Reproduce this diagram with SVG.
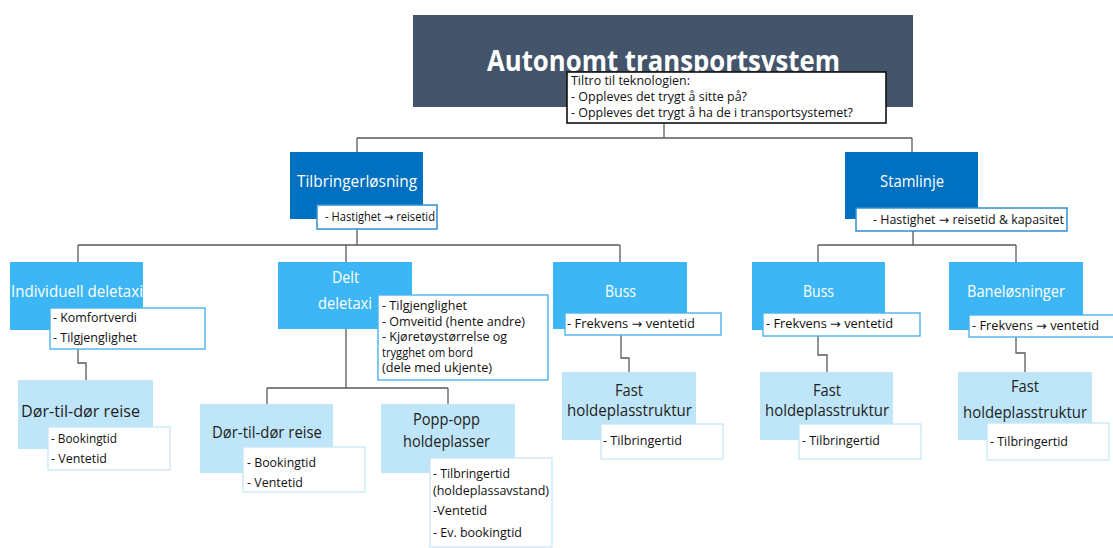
<svg xmlns="http://www.w3.org/2000/svg" width="1113" height="548" viewBox="0 0 1113 548">
<style>
.conn{stroke:#5a5a5a;stroke-width:1.3;fill:none}
.tb{fill:#44546a}
.l1{fill:#0070c0}
.l2{fill:#3db6f5}
.l3{fill:#bfe5f8}
.co0{fill:#fff;stroke:#111;stroke-width:1.6}
.co1{fill:#fff;stroke:#2f8fd2;stroke-width:1.5}
.co2{fill:#fff;stroke:#4ab3ec;stroke-width:1.4}
.co3{fill:#fff;stroke:#c6e6f8;stroke-width:1.3}
text{font-family:"Open Sans","Noto Sans","DejaVu Sans",sans-serif}
.tt{fill:#fff;font-size:29px;font-weight:bold}
.tw{fill:#fff;font-size:17px}
.td{fill:#1e1e1e;font-size:17px}
.tf{fill:#1e1e1e;font-size:16px}
.tc{fill:#111;font-size:12.5px}
</style>
<rect width="1113" height="548" fill="#fff"/>
<g id="connectors">
<path class="conn" d="M664 123V138M357 138H912M357 138V152M912 138V152"/>
<path class="conn" d="M357 229V245M78 245H620M78 245V262M346 245V262M620 245V262"/>
<path class="conn" d="M913 231V245M818 245H1016M818 245V262M1016 245V262"/>
<path class="conn" d="M78 349V363H86V380"/>
<path class="conn" d="M346 329V388M267 388H448M267 388V404M448 388V404"/>
<path class="conn" d="M621 335V358H629V372"/>
<path class="conn" d="M818 336V355H827V372"/>
<path class="conn" d="M1016 337V353H1025V372"/>
</g>
<g id="node-title">
<rect class="tb" x="413" y="15" width="500" height="92"/>
<text class="tt" x="487" y="71" textLength="353" lengthAdjust="spacingAndGlyphs">Autonomt transportsystem</text>
<rect class="co0" x="567" y="72" width="319" height="51"/>
<text class="tc" x="571" y="85" textLength="119" lengthAdjust="spacingAndGlyphs">Tiltro til teknologien:</text>
<text class="tc" x="571" y="101" textLength="176" lengthAdjust="spacingAndGlyphs">- Oppleves det trygt å sitte på?</text>
<text class="tc" x="571" y="117" textLength="282" lengthAdjust="spacingAndGlyphs">- Oppleves det trygt å ha de i transportsystemet?</text>
</g>
<g id="node-tilbringer">
<rect class="l1" x="290" y="152" width="133" height="67"/>
<text class="tw" x="297" y="187" textLength="120" lengthAdjust="spacingAndGlyphs">Tilbringerløsning</text>
<rect class="co1" x="317" y="205" width="120" height="24"/>
<text class="tc" x="325" y="221" textLength="110" lengthAdjust="spacingAndGlyphs">- Hastighet → reisetid</text>
</g>
<g id="node-stamlinje">
<rect class="l1" x="845" y="152" width="133" height="67"/>
<text class="tw" x="880" y="187" textLength="64" lengthAdjust="spacingAndGlyphs">Stamlinje</text>
<rect class="co1" x="856" y="208" width="211" height="23"/>
<text class="tc" x="873" y="224" textLength="191" lengthAdjust="spacingAndGlyphs">- Hastighet → reisetid &amp; kapasitet</text>
</g>
<g id="node-individuell">
<rect class="l2" x="10" y="262" width="133" height="68"/>
<text class="tw" x="11" y="297" textLength="132" lengthAdjust="spacingAndGlyphs">Individuell deletaxi</text>
<rect class="co2" x="50" y="308" width="155" height="41"/>
<text class="tc" x="53" y="322" textLength="84" lengthAdjust="spacingAndGlyphs">- Komfortverdi</text>
<text class="tc" x="53" y="342" textLength="84" lengthAdjust="spacingAndGlyphs">- Tilgjenglighet</text>
</g>
<g id="node-delt">
<rect class="l2" x="278" y="262" width="134" height="67"/>
<text class="tw" x="332" y="283" textLength="27" lengthAdjust="spacingAndGlyphs">Delt</text>
<text class="tw" x="318" y="309" textLength="54" lengthAdjust="spacingAndGlyphs">deletaxi</text>
<rect class="co2" x="378" y="295" width="170" height="85"/>
<text class="tc" x="382" y="310" textLength="85" lengthAdjust="spacingAndGlyphs">- Tilgjenglighet</text>
<text class="tc" x="382" y="326" textLength="143" lengthAdjust="spacingAndGlyphs">- Omveitid (hente andre)</text>
<text class="tc" x="382" y="341" textLength="125" lengthAdjust="spacingAndGlyphs">- Kjøretøystørrelse og</text>
<text class="tc" x="382" y="357" textLength="91" lengthAdjust="spacingAndGlyphs">trygghet om bord</text>
<text class="tc" x="382" y="372" textLength="110" lengthAdjust="spacingAndGlyphs">(dele med ukjente)</text>
</g>
<g id="node-buss-1">
<rect class="l2" x="553" y="262" width="134" height="67"/>
<text class="tw" x="605" y="297" textLength="31" lengthAdjust="spacingAndGlyphs">Buss</text>
<rect class="co2" x="565" y="313" width="156" height="22"/>
<text class="tc" x="567" y="328" textLength="128" lengthAdjust="spacingAndGlyphs">- Frekvens → ventetid</text>
</g>
<g id="node-buss-2">
<rect class="l2" x="752" y="262" width="133" height="68"/>
<text class="tw" x="803" y="297" textLength="31" lengthAdjust="spacingAndGlyphs">Buss</text>
<rect class="co2" x="763" y="313" width="157" height="23"/>
<text class="tc" x="766" y="328" textLength="127" lengthAdjust="spacingAndGlyphs">- Frekvens → ventetid</text>
</g>
<g id="node-bane">
<rect class="l2" x="949" y="262" width="134" height="68"/>
<text class="tw" x="967" y="297" textLength="98" lengthAdjust="spacingAndGlyphs">Baneløsninger</text>
<rect class="co2" x="969" y="315" width="150" height="22"/>
<text class="tc" x="972" y="330" textLength="127" lengthAdjust="spacingAndGlyphs">- Frekvens → ventetid</text>
</g>
<g id="node-dor-1">
<rect class="l3" x="18" y="380" width="135" height="69"/>
<text class="td" x="21" y="417" textLength="119" lengthAdjust="spacingAndGlyphs">Dør-til-dør reise</text>
<rect class="co3" x="48" y="427" width="122" height="43"/>
<text class="tc" x="51" y="443" textLength="66" lengthAdjust="spacingAndGlyphs">- Bookingtid</text>
<text class="tc" x="51" y="463" textLength="56" lengthAdjust="spacingAndGlyphs">- Ventetid</text>
</g>
<g id="node-dor-2">
<rect class="l3" x="200" y="404" width="133" height="69"/>
<text class="td" x="212" y="438" textLength="110" lengthAdjust="spacingAndGlyphs">Dør-til-dør reise</text>
<rect class="co3" x="243" y="447" width="122" height="45"/>
<text class="tc" x="247" y="467" textLength="69" lengthAdjust="spacingAndGlyphs">- Bookingtid</text>
<text class="tc" x="247" y="487" textLength="56" lengthAdjust="spacingAndGlyphs">- Ventetid</text>
</g>
<g id="node-popp">
<rect class="l3" x="381" y="404" width="134" height="69"/>
<text class="td" x="413" y="425" textLength="67" lengthAdjust="spacingAndGlyphs">Popp-opp</text>
<text class="td" x="403" y="447" textLength="87" lengthAdjust="spacingAndGlyphs">holdeplasser</text>
<rect class="co3" x="430" y="458" width="122" height="89"/>
<text class="tc" x="433" y="478" textLength="77" lengthAdjust="spacingAndGlyphs">- Tilbringertid</text>
<text class="tc" x="433" y="495" textLength="116" lengthAdjust="spacingAndGlyphs">(holdeplassavstand)</text>
<text class="tc" x="433" y="515" textLength="54" lengthAdjust="spacingAndGlyphs">-Ventetid</text>
<text class="tc" x="433" y="537" textLength="89" lengthAdjust="spacingAndGlyphs">- Ev. bookingtid</text>
</g>
<g id="node-fast-1">
<rect class="l3" x="562" y="372" width="134" height="68"/>
<text class="tf" x="615" y="396" textLength="28" lengthAdjust="spacingAndGlyphs">Fast</text>
<text class="tf" x="567" y="416" textLength="125" lengthAdjust="spacingAndGlyphs">holdeplasstruktur</text>
<rect class="co3" x="601" y="424" width="122" height="35"/>
<text class="tc" x="603" y="445" textLength="79" lengthAdjust="spacingAndGlyphs">- Tilbringertid</text>
</g>
<g id="node-fast-2">
<rect class="l3" x="760" y="372" width="133" height="68"/>
<text class="tf" x="813" y="396" textLength="28" lengthAdjust="spacingAndGlyphs">Fast</text>
<text class="tf" x="765" y="416" textLength="124" lengthAdjust="spacingAndGlyphs">holdeplasstruktur</text>
<rect class="co3" x="799" y="424" width="122" height="35"/>
<text class="tc" x="802" y="445" textLength="78" lengthAdjust="spacingAndGlyphs">- Tilbringertid</text>
</g>
<g id="node-fast-3">
<rect class="l3" x="958" y="372" width="134" height="68"/>
<text class="td" x="1011" y="392" textLength="28" lengthAdjust="spacingAndGlyphs">Fast</text>
<text class="td" x="963" y="418" textLength="124" lengthAdjust="spacingAndGlyphs">holdeplasstruktur</text>
<rect class="co3" x="987" y="423" width="122" height="37"/>
<text class="tc" x="990" y="446" textLength="78" lengthAdjust="spacingAndGlyphs">- Tilbringertid</text>
</g>
</svg>
